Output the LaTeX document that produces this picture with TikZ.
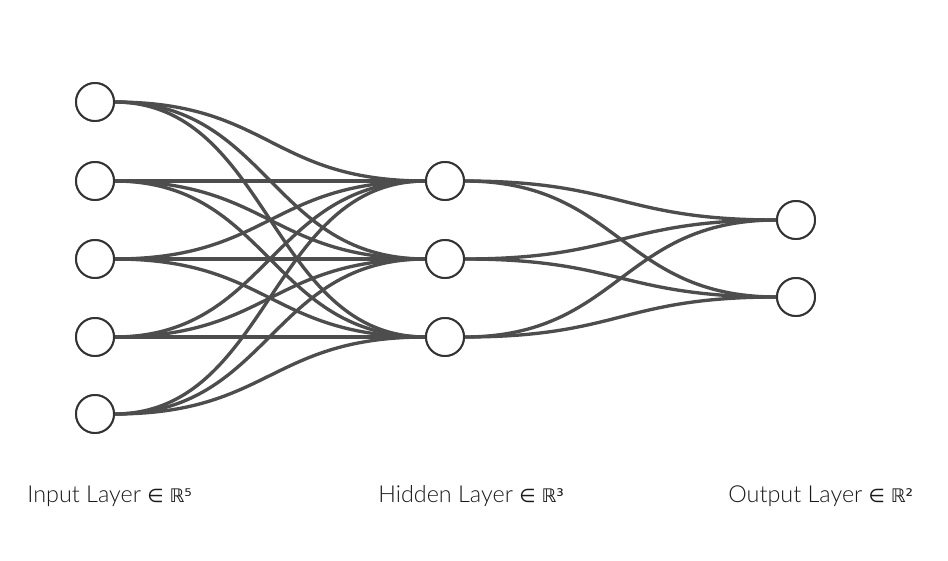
\documentclass[tikz,border=0pt]{standalone}
\usepackage{fontspec}
\setmainfont{Lato}[UprightFont=* Light]
\newfontfamily\symfont{DejaVu Sans}[Scale=0.8]
\usetikzlibrary{calc}
\definecolor{edgegray}{HTML}{4D4D4D}
\definecolor{ringgray}{HTML}{333333}

\begin{document}
\begin{tikzpicture}[x=0.02cm, y=-0.02cm,
	neuron/.style={circle, draw=ringgray, line width=1.1pt, fill=white, minimum size=0.76cm, inner sep=0pt, outer sep=0pt},
	link/.style={draw=edgegray, line width=1.9pt},
	layerlabel/.style={anchor=base west, inner sep=0pt, font=\fontsize{13.3}{16}\selectfont, text=black!90}]
			%%%%% START %%%%%
			\useasboundingbox (0, 0) rectangle (948, 561);
			
			% input layer
			\foreach \n/\y in {1/102, 2/181, 3/259, 4/337, 5/414}
				\node[neuron] (i\n) at (95, \y) {};
			
			% hidden layer
			\foreach \n/\y in {1/181, 2/259, 3/337}
				\node[neuron] (h\n) at (445, \y) {};
			
			% output layer
			\foreach \n/\y in {1/220, 2/297}
				\node[neuron] (o\n) at (796, \y) {};
			
			% links
			\foreach \a in {1,...,5}
				\foreach \b in {1,2,3}
					\draw[link] (i\a.east) .. controls +(156, 0) and +(-156, 0) .. (h\b.west);
			\foreach \a in {1,2,3}
				\foreach \b in {1,2}
					\draw[link] (h\a.east) .. controls +(156, 0) and +(-156, 0) .. (o\b.west);
			
			% redraw rings on top
			\foreach \n in {1,...,5}
				\node[neuron] at (i\n) {};
			\foreach \n in {1,2,3}
				\node[neuron] at (h\n) {};
			\foreach \n in {1,2}
				\node[neuron] at (o\n) {};
			
			% labels
			\node[layerlabel] (inlabel) at (27, 502) {Input Layer {\symfont ∈ ℝ⁵}};
			\node[layerlabel] (hidlabel) at (378, 502) {Hidden Layer {\symfont ∈ ℝ³}};
			\node[layerlabel] (outlabel) at (728, 502) {Output Layer {\symfont ∈ ℝ²}};
			%%%%% END %%%%%
\end{tikzpicture}
\end{document}
